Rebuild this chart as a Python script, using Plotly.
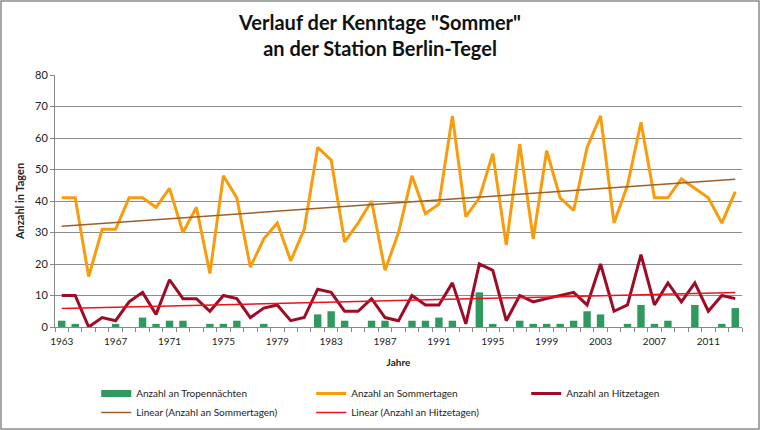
import numpy as np
import plotly.graph_objects as go

years = list(range(1963, 2014))
sommertage = [41, 41, 16, 31, 31, 41, 41, 38, 44, 30, 38, 17, 48, 41, 19, 28, 33,
              21, 31, 57, 53, 27, 33, 40, 18, 30, 48, 36, 39, 67, 35, 41, 55, 26, 58,
              28, 56, 41, 37, 57, 67, 33, 45, 65, 41, 41, 47, 44, 41, 33, 43]
hitzetage = [10, 10, 0, 3, 2, 8, 11, 4, 15, 9, 9, 5, 10, 9, 3, 6, 7,
             2, 3, 12, 11, 5, 5, 9, 3, 2, 10, 7, 7, 14, 1, 20, 18, 2, 10,
             8, 9, 10, 11, 7, 20, 5, 7, 23, 7, 14, 8, 14, 5, 10, 9]
tropennaechte = [2, 1, 0, 0, 1, 0, 3, 1, 2, 2, 0, 1, 1, 2, 0, 1, 0,
                 0, 0, 4, 5, 2, 0, 2, 2, 0, 2, 2, 3, 2, 0, 11, 1, 0, 2,
                 1, 1, 1, 2, 5, 4, 0, 1, 7, 1, 2, 0, 7, 0, 1, 6]
x_tick_labels = [str(y) for y in range(1963, 2014, 4)]

yr = np.array(years, dtype=float)
cs = np.polyfit(yr, np.array(sommertage, dtype=float), 1)
ch = np.polyfit(yr, np.array(hitzetage, dtype=float), 1)
trend_s = np.polyval(cs, yr)
trend_h = np.polyval(ch, yr)

FONT = "Lato, 'Open Sans', sans-serif"
GREEN = "#2E9A5E"

fig = go.Figure()
fig.add_trace(go.Bar(x=years, y=tropennaechte, name="Anzahl an Tropennächten",
                     marker=dict(color=GREEN, line=dict(width=0)), width=0.55,
                     showlegend=False, legendgroup="tn"))
# legend entry for the bars, drawn as a wide swatch like the original
fig.add_trace(go.Scatter(x=[None], y=[None], mode="lines", name="Anzahl an Tropennächten",
                         line=dict(color=GREEN, width=7), legendgroup="tn", legendrank=1))
fig.add_trace(go.Scatter(x=years, y=sommertage, mode="lines", name="Anzahl an Sommertagen",
                         line=dict(color="#F99C0C", width=3), legendrank=2))
fig.add_trace(go.Scatter(x=years, y=hitzetage, mode="lines", name="Anzahl an Hitzetagen",
                         line=dict(color="#9E0B27", width=3), legendrank=3))
fig.add_trace(go.Scatter(x=years, y=trend_s, mode="lines", name="Linear (Anzahl an Sommertagen)",
                         line=dict(color="#9C5F2A", width=1.5), legendrank=4))
fig.add_trace(go.Scatter(x=years, y=trend_h, mode="lines", name="Linear (Anzahl an Hitzetagen)",
                         line=dict(color="#E8141B", width=1.5), legendrank=5))

fig.update_layout(
    width=760, height=430,
    paper_bgcolor="white", plot_bgcolor="white",
    margin=dict(l=55, r=18, t=75, b=103, autoexpand=False),
    font=dict(family=FONT, size=10, color="#222222"),
    title=dict(text="<b>Verlauf der Kenntage \"Sommer\"<br>an der Station Berlin-Tegel</b>",
               x=0.5, xanchor="center", yref="container", y=0.93, yanchor="middle",
               font=dict(family=FONT, size=20, color="#111111")),
    showlegend=True,
    legend=dict(orientation="h", x=0.06, xanchor="left", yref="container",
                y=1 - 379 / 430, yanchor="top",
                entrywidth=170, entrywidthmode="pixels", font=dict(size=10),
                itemwidth=30, tracegroupgap=0),
    bargap=0.4,
)
fig.update_xaxes(
    range=[1962.5, 2013.5], tickmode="array",
    tickvals=list(range(1963, 2014, 4)), ticktext=x_tick_labels,
    ticks="", showgrid=False, showline=True, linecolor="#888888", linewidth=1,
    zeroline=False, automargin=False, ticklabelstandoff=5,
    minor=dict(ticks="outside", tick0=1962.5, dtick=1, ticklen=4, tickcolor="#888888", showgrid=False),
    title=dict(text="<b>Jahre</b>", font=dict(size=10), standoff=12),
    tickfont=dict(size=10),
)
fig.update_yaxes(
    range=[0, 80], dtick=10, showgrid=True, gridcolor="#8C8C8C", gridwidth=1,
    showline=True, linecolor="#888888", linewidth=1, zeroline=False, automargin=False,
    ticks="outside", ticklen=4, tickcolor="#888888",
    title=dict(text="<b>Anzahl in Tagen</b>", font=dict(size=11), standoff=8),
    tickfont=dict(size=11),
)
# outer chart border
fig.add_shape(type="rect", xref="paper", yref="paper",
              x0=-54/687, x1=1 + 17/687, y0=-102/252, y1=1 + 74/252,
              line=dict(color="#8C8C8C", width=1.5), fillcolor="rgba(0,0,0,0)", layer="below")

fig.write_html("out.html")
